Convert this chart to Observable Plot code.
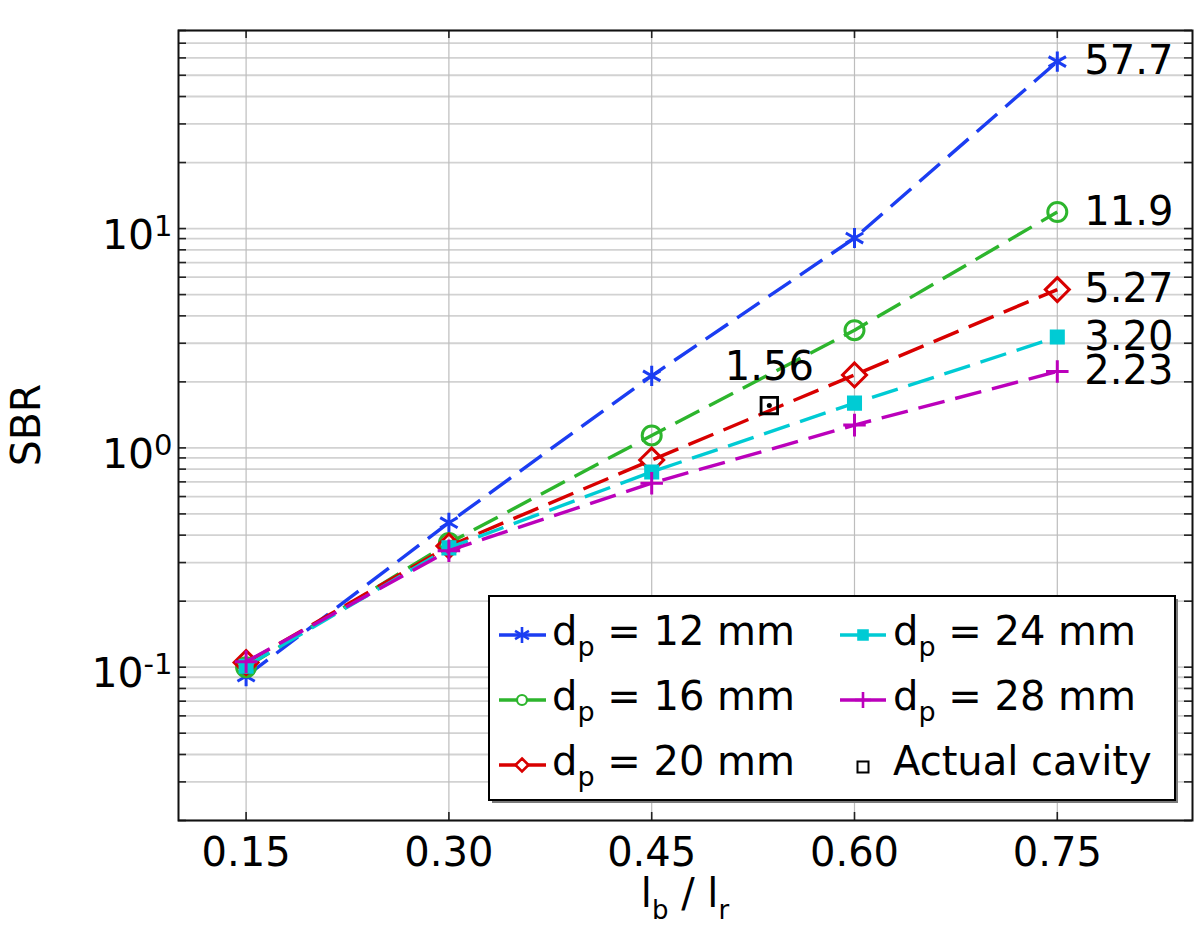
<!DOCTYPE html>
<html>
<head>
<meta charset="utf-8">
<script src="https://cdn.jsdelivr.net/npm/d3@7"></script>
<script src="https://cdn.jsdelivr.net/npm/@observablehq/plot@0.6"></script>
<style>
  body { margin: 0; background: #fff; }
  #chart svg { display: block; }
</style>
</head>
<body>
<div id="chart"></div>
<script>
// ---- data ----
const ratios = [0.15, 0.30, 0.45, 0.60, 0.75];
const diameters = ["12", "16", "20", "24", "28"];
const sbr12 = [0.091, 0.456, 2.13, 9.05, 57.7];
const sbr16 = [0.100, 0.368, 1.14, 3.44, 11.9];
const sbr20 = [0.105, 0.357, 0.88, 2.15, 5.27];
const sbr24 = [0.101, 0.350, 0.777, 1.60, 3.20];
const sbr28 = [0.106, 0.340, 0.69, 1.27, 2.23];
const endLabels = ["57.7", "11.9", "5.27", "3.20", "2.23"];
const cavityRatio = [0.537];
const cavitySBR = [1.56];
const cavityLabel = ["1.56"];
const xTickValues = [0.15, 0.30, 0.45, 0.60, 0.75];
const yMajorTicks = [0.1, 1, 10];
const colors = ["#1b3df2", "#2db52d", "#d80000", "#00cbd4", "#bb00bb"];
const symbols = ["asterisk", "circle", "diamond2", "square", "plus"];
const symbolR = [9.5, 9.5, 10.8, 6.8, 7.3];
const symbolFill = ["none", "none", "none", "currentColor", "none"];

const allSeries = [sbr12, sbr16, sbr20, sbr24, sbr28];
const rows = allSeries.flatMap((vals, s) => vals.map((v, i) => ({s, x: ratios[i], y: v})));
const endRows = allSeries.map((vals, s) => ({s, x: ratios[ratios.length - 1], y: vals[vals.length - 1], label: endLabels[s]}));
const cavityRows = cavityRatio.map((x, i) => ({x, y: cavitySBR[i], label: cavityLabel[i]}));

const yDomain = [0.02, 80];
const yGrid = [];
for (const k of [0.01, 0.1, 1, 10]) for (let m = 1; m <= 9; m++) {
  const v = +(m * k).toPrecision(3);
  if (v >= yDomain[0] && v <= yDomain[1]) yGrid.push(v);
}

const W = 1200, H = 943;
const mL = 178, mR = 8, mT = 30, mB = 123;
const frameW = W - mL - mR, frameH = H - mT - mB;
const tickLen = 8;

const marks = [
  Plot.gridY(yGrid, {stroke: "#d2d2d2", strokeOpacity: 1, strokeWidth: 1.8}),
  Plot.gridX(xTickValues, {stroke: "#bdbdbd", strokeOpacity: 1, strokeWidth: 1.2}),
  // inward ticks on all four sides
  Plot.ruleX(xTickValues, {stroke: "#222", strokeWidth: 1.6, insetTop: frameH - tickLen}),
  Plot.ruleX(xTickValues, {stroke: "#222", strokeWidth: 1.6, insetBottom: frameH - tickLen}),
  Plot.ruleY(yGrid, {stroke: "#222", strokeWidth: 1.6, insetRight: frameW - tickLen}),
  Plot.ruleY(yGrid, {stroke: "#222", strokeWidth: 1.6, insetLeft: frameW - tickLen}),
];

allSeries.forEach((vals, s) => {
  const data = rows.filter(d => d.s === s);
  marks.push(Plot.line(data, {
    x: "x", y: "y", stroke: colors[s], strokeWidth: 3.4,
    strokeDasharray: "27,11", strokeLinecap: "butt"
  }));
  marks.push(Plot.dot(data, {
    x: "x", y: "y", symbol: symbols[s], r: symbolR[s],
    stroke: colors[s], strokeWidth: 3,
    fill: symbolFill[s] === "none" ? "none" : colors[s]
  }));
});

marks.push(
  Plot.dot(cavityRows, {x: "x", y: "y", symbol: "square2", r: 10.5, stroke: "black", strokeWidth: 2.8, fill: "none"}),
  Plot.dot(cavityRows, {x: "x", y: "y", r: 2.5, fill: "black", stroke: "none"}),
  Plot.text(cavityRows, {x: "x", y: "y", text: "label", dy: -38, textAnchor: "middle", fontSize: 40, fill: "black"}),
  Plot.text(endRows, {x: "x", y: "y", text: "label", dx: 27, textAnchor: "start", fontSize: 40, fill: "black"}),
  Plot.frame({stroke: "#111", strokeWidth: 2}),
  Plot.axisX(xTickValues, {tickSize: 0, tickPadding: 17, tickFormat: d3.format(".2f"), fontSize: 40, label: null}),
  Plot.axisY(yMajorTicks, {tickSize: 0, tickPadding: 6, dy: 7,
    tickFormat: d => "10^" + Math.round(Math.log10(d)), fontSize: 41, label: null})
);

const plot = Plot.plot({
  width: W, height: H,
  marginLeft: mL, marginRight: mR, marginTop: mT, marginBottom: mB,
  style: {fontFamily: "DejaVu Sans", fontSize: "40px", color: "black", background: "white"},
  x: {domain: [0.1, 0.85]},
  y: {type: "log", domain: yDomain},
  marks
});
document.getElementById("chart").appendChild(plot);

const svg = d3.select(plot);

// superscripts on the y tick labels
svg.selectAll("text").each(function () {
  const m = /^10\^(.+)$/.exec(this.textContent);
  if (m) {
    const sel = d3.select(this);
    sel.text(null);
    sel.append("tspan").text("10");
    sel.append("tspan").attr("dy", -13).attr("font-size", 29).text(m[1]);
  }
});

// axis titles
const xl = svg.append("text")
  .attr("x", mL + frameW / 2).attr("y", 907)
  .attr("text-anchor", "middle").attr("font-size", 40).attr("fill", "black")
  .style("white-space", "pre");
xl.append("tspan").text("l");
xl.append("tspan").attr("dy", 12).attr("font-size", 26).text("b");
xl.append("tspan").attr("dy", -12).text(" / l");
xl.append("tspan").attr("dy", 12).attr("font-size", 26).text("r");

svg.append("text")
  .attr("transform", "translate(40,425) rotate(-90)")
  .attr("text-anchor", "middle").attr("font-size", 41).attr("fill", "black")
  .text("SBR");

// legend
const lg = svg.append("g").attr("font-family", "DejaVu Sans").attr("font-size", 40)
  .attr("text-anchor", "start").style("white-space", "pre");
lg.append("rect").attr("x", 492).attr("y", 599).attr("width", 686).attr("height", 204).attr("fill", "#7a7a7a");
lg.append("rect").attr("x", 489).attr("y", 596).attr("width", 686).attr("height", 204)
  .attr("fill", "white").attr("stroke", "black").attr("stroke-width", 2);

const colX = [{x1: 499, x2: 546, xm: 522, xt: 552}, {x1: 840, x2: 886, xm: 863, xt: 893}];
const rowY = [635, 700, 765];
const legendSymbols = [
  d3.symbol(d3.symbolAsterisk, 181),
  null,
  d3.symbol(d3.symbolDiamond2, 108),
  d3.symbol(d3.symbolSquare, 81),
  d3.symbol(d3.symbolPlus, 86)
];
const placement = [[0, 0], [0, 1], [0, 2], [1, 0], [1, 1]];
diameters.forEach((dp, s) => {
  const c = colX[placement[s][0]], y = rowY[placement[s][1]];
  const g = lg.append("g");
  g.append("line").attr("x1", c.x1).attr("x2", c.x2).attr("y1", y).attr("y2", y)
    .attr("stroke", colors[s]).attr("stroke-width", 3.5);
  if (s === 1) {
    g.append("circle").attr("cx", c.xm).attr("cy", y).attr("r", 5)
      .attr("fill", "white").attr("stroke", colors[s]).attr("stroke-width", 2.2);
  } else {
    g.append("path").attr("d", legendSymbols[s]()).attr("transform", `translate(${c.xm},${y})`)
      .attr("fill", s === 3 ? colors[s] : (s === 2 ? "white" : "none"))
      .attr("stroke", colors[s]).attr("stroke-width", 2.6);
  }
  const t = g.append("text").attr("x", c.xt).attr("y", y + 10).attr("fill", "black").attr("text-anchor", "start");
  t.append("tspan").text("d");
  t.append("tspan").attr("dy", 11).attr("font-size", 27).text("p");
  t.append("tspan").attr("dy", -11).text(` = ${dp} mm`);
});
// actual cavity entry
lg.append("path").attr("d", d3.symbol(d3.symbolSquare2, 154)())
  .attr("transform", `translate(${colX[1].xm},${rowY[2] + 2})`)
  .attr("fill", "white").attr("stroke", "black").attr("stroke-width", 2);
lg.append("text").attr("x", colX[1].xt).attr("y", rowY[2] + 10).attr("fill", "black")
  .attr("text-anchor", "start").text("Actual cavity");
</script>
</body>
</html>
